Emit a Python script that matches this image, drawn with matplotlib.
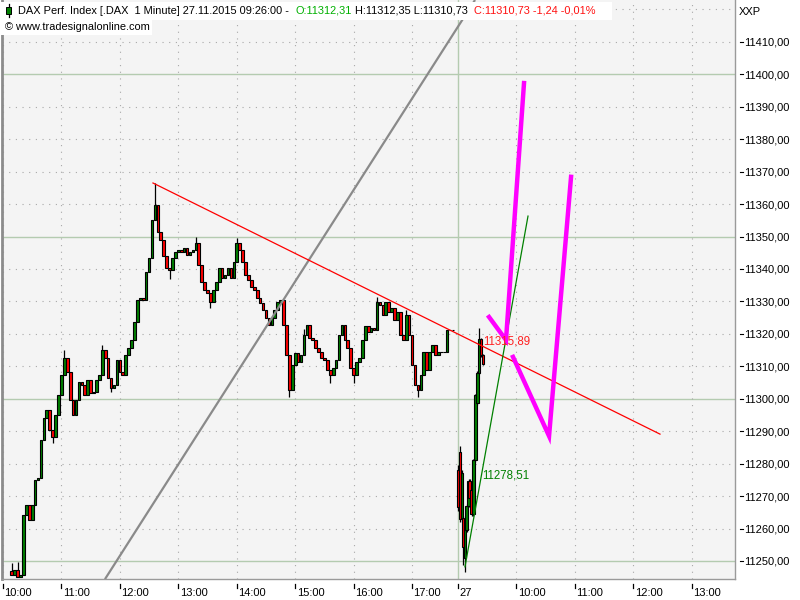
import matplotlib
matplotlib.use("Agg")
import matplotlib.pyplot as plt
import matplotlib.transforms as mtransforms
from matplotlib.patches import Rectangle
import numpy as np

plt.rcParams['font.family'] = ['Liberation Sans', 'DejaVu Sans']

# ---------------- data ----------------
# Session 1 (26.11.2015), 3-minute sampled closes starting 10:09
day1_start_min = 9          # minutes after 10:00
day1_step = 3
day1_first_open = 11247.0
day1_close = [
    11245.7, 11247.2, 11245.1, 11245.7, 11264.2, 11267.3, 11262.6, 11267.3, 11275.0, 11275.6,
    11287.3, 11294.1, 11296.5, 11290.4, 11288.2, 11295.0, 11301.2, 11307.3, 11312.6, 11308.3,
    11299.6, 11295.0, 11299.6, 11305.2, 11304.3, 11301.2, 11305.8, 11301.8, 11302.1, 11305.8,
    11307.3, 11315.0, 11312.6, 11306.4, 11303.3, 11304.3, 11312.0, 11308.3, 11307.3, 11313.5,
    11315.7, 11318.1, 11323.7, 11330.5, 11331.1, 11330.5, 11339.1, 11343.4, 11355.1, 11359.7,
    11351.4, 11349.0, 11344.0, 11340.3, 11339.7, 11343.4, 11345.3, 11345.9, 11345.3, 11346.5,
    11344.3, 11345.3, 11345.9, 11348.0, 11341.2, 11336.0, 11333.5, 11332.6, 11329.8, 11333.5,
    11336.0, 11340.3, 11337.2, 11338.2, 11340.3, 11337.2, 11342.2, 11348.0, 11345.9, 11342.2,
    11338.2, 11336.6, 11334.5, 11333.5, 11331.1, 11329.5, 11327.4, 11324.9, 11322.7, 11324.9,
    11327.4, 11329.8, 11330.5, 11322.7, 11313.5, 11302.7, 11310.4, 11314.1, 11311.3, 11313.5,
    11319.7, 11322.7, 11318.7, 11318.1, 11315.7, 11314.4, 11312.6, 11312.0, 11308.9, 11307.3,
    11309.5, 11312.0, 11319.7, 11322.7, 11318.1, 11315.7, 11309.5, 11307.3, 11311.3, 11312.6,
    11318.1, 11322.4, 11320.6, 11321.8, 11321.2, 11329.8, 11328.9, 11325.8, 11329.8, 11326.8,
    11328.0, 11324.3, 11326.8, 11319.7, 11318.1, 11325.8, 11319.7, 11310.4, 11304.3, 11302.7,
    11307.3, 11314.4, 11308.9, 11314.4, 11316.6, 11313.5, 11314.4, 11314.4,
    11314.4, 11321.2, 11321.2, 11321.2,
]
day1_high_wicks = {0: 11249.5, 2: 11249.8, 18: 11315.0, 31: 11316.5, 49: 11366.5,
                   63: 11350.0, 77: 11349.5, 100: 11321.5, 125: 11331.5, 135: 11327.5}
day1_low_wicks = {14: 11286.5, 34: 11302.0, 54: 11337.0, 68: 11328.0, 95: 11300.5,
                  109: 11305.0, 117: 11305.0, 139: 11300.5}

# Session 2 (27.11.2015) from 09:00, minutes after 09:00
day2_offset = 467            # axis position of 09:00 on 27.11.
day2_min = [0, 2, 4, 5, 7, 9, 11, 12, 14, 16, 18, 20, 22, 24, 26]
day2_open = [11278.1, 11283.6, 11263.0, 11263.3, 11251.0, 11259.5, 11267.0, 11274.8, 11272.0,
             11264.6, 11281.1, 11298.7, 11307.9, 11318.4, 11313.4]
day2_high = [11279.5, 11285.4, 11278.0, 11263.8, 11261.0, 11267.5, 11275.2, 11275.2, 11272.5,
             11281.5, 11301.5, 11308.5, 11321.8, 11318.8, 11313.8]
day2_low = [11265.5, 11262.0, 11262.0, 11248.8, 11246.6, 11259.0, 11266.5, 11269.0, 11264.0,
            11264.0, 11280.5, 11298.0, 11307.5, 11313.0, 11310.3]
day2_close = [11266.6, 11263.0, 11277.0, 11254.3, 11260.0, 11267.0, 11274.8, 11269.5, 11264.6,
              11281.1, 11301.2, 11307.9, 11318.4, 11313.4, 11310.7]

# Drawing tools (axis minutes, price)
red_trend = ([154.0, 674.5], [11366.5, 11289.1])
gray_trend = ([104.7, 484.6], [11244.4, 11422.9])
green_trend = ([474.3, 539.0], [11248.2, 11356.3])
magenta_1 = ([499.0, 516.4, 534.9], [11325.2, 11318.1, 11397.3])
magenta_2 = ([523.6, 560.6, 583.2], [11312.9, 11288.5, 11368.4])
label_red = (492.8, 11317.8, "11315,89")
label_green = (491.8, 11276.5, "11278,51")

x_ticks = [0, 60, 120, 180, 240, 300, 360, 420, 467, 527, 587, 647, 707]
x_labels = ["10:00", "11:00", "12:00", "13:00", "14:00", "15:00", "16:00", "17:00",
            "27", "10:00", "11:00", "12:00", "13:00"]
y_ticks = list(range(11250, 11411, 10))

# ---------------- figure ----------------
W, H = 800, 600
fig = plt.figure(figsize=(8, 6), dpi=100)
fig.patch.set_facecolor('white')
ax = fig.add_axes([2 / W, 21 / H, 733 / W, 579 / H])
ax.set_facecolor('#f4f4f4')
ax.set_xlim(-1.0, 751.5)
ax.set_ylim(11244.45, 11422.9)

# grid
for v in range(11250, 11421, 10):
    if v % 50 == 0:
        ax.axhline(v, color='#b4cbb0', lw=1.0, zorder=1)
    else:
        ax.axhline(v, color='#a8a8a8', lw=0.8, ls=(0, (1, 5)), zorder=1)
for t in x_ticks:
    if t == day2_offset:
        ax.axvline(t, color='#b4cbb0', lw=1.0, zorder=1)
    else:
        ax.axvline(t, color='#a8a8a8', lw=0.8, ls=(0, (1, 5)), zorder=1)


def candles(tt, o, h, l, c, width):
    tt = np.asarray(tt, float)
    o = np.asarray(o, float); c = np.asarray(c, float)
    cols = ['#008000' if cc > oo else '#ff0000' for oo, cc in zip(o, c)]
    ax.vlines(tt, l, h, color='black', lw=0.9, zorder=3)
    ax.bar(tt, c - o, bottom=o, width=width, color=cols, edgecolor='black',
           linewidth=0.8, zorder=4)


n1 = len(day1_close)
t1 = day1_start_min + day1_step * np.arange(n1)
c1 = np.array(day1_close)
o1 = np.concatenate([[day1_first_open], c1[:-1]])
h1 = np.maximum(o1, c1)
l1 = np.minimum(o1, c1)
for k, v in day1_high_wicks.items():
    h1[k] = max(h1[k], v)
for k, v in day1_low_wicks.items():
    l1[k] = min(l1[k], v)
candles(t1, o1, h1, l1, c1, 2.7)

t2 = day2_offset + np.array(day2_min)
candles(t2, day2_open, day2_high, day2_low, day2_close, 2.4)

# drawing tools
ax.plot(*gray_trend, color='#8a8a8a', lw=1.6, zorder=5, solid_capstyle='butt')
ax.plot(*red_trend, color='#ff0000', lw=0.9, zorder=5)
ax.plot(*green_trend, color='#008000', lw=0.9, zorder=5)
ax.plot(*magenta_1, color='#ff00ff', lw=3.2, zorder=6, solid_joinstyle='miter')
ax.plot(*magenta_2, color='#ff00ff', lw=3.2, zorder=6, solid_joinstyle='miter')
ax.text(label_red[0], label_red[1], label_red[2], color='#ff2020', fontsize=8.3,
        ha='left', va='center', zorder=7)
ax.text(label_green[0], label_green[1], label_green[2], color='#008000', fontsize=8.3,
        ha='left', va='center', zorder=7)

# spines
ax.spines['top'].set_visible(False)
ax.spines['left'].set_color('#8c8c8c'); ax.spines['left'].set_linewidth(2.0)
ax.spines['bottom'].set_color('#9a9a9a'); ax.spines['bottom'].set_linewidth(1.0)
ax.spines['right'].set_color('#9a9a9a'); ax.spines['right'].set_linewidth(1.0)

# y axis on right
ax.yaxis.tick_right()
ax.set_yticks(y_ticks)
ax.set_yticklabels([f"{v:.2f}".replace('.', ',') for v in y_ticks])
ax.tick_params(axis='y', length=0, pad=6.5, labelsize=8, labelcolor='black')
ytr = mtransforms.blended_transform_factory(ax.transAxes, ax.transData)
for v in y_ticks:
    ax.plot([1.0075, 1.0105], [v, v], color='black', lw=0.8, transform=ytr, clip_on=False)

# x axis
ax.set_xticks(x_ticks)
ax.set_xticklabels(x_labels)
ax.tick_params(axis='x', length=0, pad=6.5, labelsize=8, labelcolor='black')
offset = mtransforms.ScaledTranslation(1.5 / 100, 0, fig.dpi_scale_trans)
for lab in ax.get_xticklabels():
    lab.set_horizontalalignment('left')
    lab.set_transform(lab.get_transform() + offset)
xtr = mtransforms.blended_transform_factory(ax.transData, ax.transAxes)
for t in x_ticks:
    ax.plot([t, t], [-0.0086, -0.0155], color='black', lw=0.9, transform=xtr, clip_on=False)

# header
fig.patches.append(Rectangle((0, 1 - 20 / H), 612 / W, 18 / H, transform=fig.transFigure,
                             facecolor='white', edgecolor='none', zorder=10))
fig.patches.append(Rectangle((0, 1 - 35 / H), 152 / W, 15 / H, transform=fig.transFigure,
                             facecolor='white', edgecolor='none', zorder=10))
# small candle icon
fig.lines.append(plt.Line2D([8.5 / W, 8.5 / W], [1 - 4 / H, 1 - 17 / H], transform=fig.transFigure,
                            color='black', lw=0.9, zorder=11))
fig.patches.append(Rectangle((6 / W, 1 - 14 / H), 5 / W, 7 / H, transform=fig.transFigure,
                             facecolor='#008000', edgecolor='black', lw=0.7, zorder=12))

ty = 1 - 10.5 / H
fs = 7.9
fig.text(18 / W, ty, "DAX Perf. Index [.DAX  1 Minute] 27.11.2015 09:26:00 -", fontsize=fs,
         color='black', va='center', ha='left', zorder=13)
fig.text(295 / W, ty, "O:11312,31", fontsize=fs, color='#00b000', va='center', ha='left', zorder=13)
fig.text(355 / W, ty, "H:11312,35 L:11310,73", fontsize=fs, color='black', va='center',
         ha='left', zorder=13)
fig.text(474 / W, ty, "C:11310,73 -1,24 -0,01%", fontsize=fs, color='#ff1010', va='center',
         ha='left', zorder=13)
fig.text(5 / W, 1 - 27 / H, "© www.tradesignalonline.com", fontsize=fs, color='black',
         va='center', ha='left', zorder=13)
fig.text(739 / W, 1 - 12 / H, "XXP", fontsize=8, color='black', va='center', ha='left')

fig.savefig("out.png", dpi=100)
